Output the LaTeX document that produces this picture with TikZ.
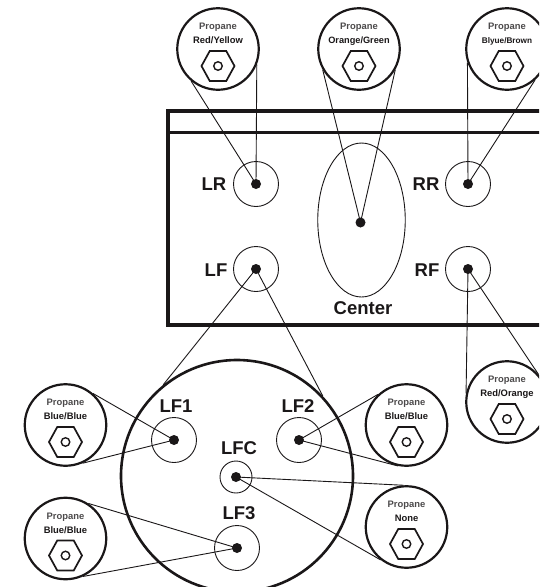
\documentclass[tikz,border=0pt]{standalone}
\usepackage{fontspec}
\setmainfont{Liberation Sans}
\usetikzlibrary{shapes.geometric}
\definecolor{ink}{HTML}{1A1718}
\tikzset{
  x=1pt,y=-1pt,
  thin line/.style={draw=ink,line width=0.9pt},
  detail/.style={circle,draw=ink,fill=white,line width=2.2pt,minimum size=81.5pt,inner sep=0pt},
  port/.style={circle,draw=ink,line width=0.9pt,inner sep=0pt},
  pin/.style={circle,fill=ink,minimum size=10pt,inner sep=0pt},
  lab/.style={font=\bfseries\fontsize{18.5}{20}\selectfont,text=ink,inner sep=0pt},
  prop/.style={font=\bfseries\fontsize{9.4}{11}\selectfont,text=ink!78,inner sep=0pt,anchor=base},
  hexa/.style={regular polygon,regular polygon sides=6,draw=ink,line width=1.7pt,minimum size=33pt,inner sep=0pt,yscale=1.05},
  hole/.style={circle,draw=ink,line width=1.4pt,minimum size=8.5pt,inner sep=0pt}
}
\newcommand{\fitting}[5]{% name, x, y, colour name, size
  \node[detail] (#1) at (#2,#3) {};
  \node[prop] (#1a) at (#2,#3-19.5) {Propane};
  \node[prop,text=ink,font=\bfseries\fontsize{#5}{11}\selectfont] (#1b) at (#2,#3-5.5) {#4};
  \node[hexa] (#1h) at (#2,#3+17) {};
  \node[hole] (#1o) at (#2,#3+17) {};
}
\begin{document}
\begin{tikzpicture}
\useasboundingbox (0,0) rectangle (539,587);
\clip (0,0) rectangle (539,587);
% big circle
\node[circle,draw=ink,line width=2.6pt,minimum size=232pt,inner sep=0pt] (big) at (237,476) {};
% box
\draw[ink,line width=3.8pt] (560,111) -- (168,111) -- (168,325) -- (560,325);
\draw[ink,line width=3.8pt] (168,132.5) -- (560,132.5);
% ports
\node[port,minimum size=45pt] (LR) at (256,184) {};
\node[port,minimum size=45pt] (RR) at (468,184) {};
\node[port,minimum size=45pt] (LF) at (256,269) {};
\node[port,minimum size=45pt] (RF) at (468,269) {};
\node[port,ellipse,minimum width=87.5pt,minimum height=154pt] (C) at (361.5,220) {};
\node[port,minimum size=45pt] (LFa) at (174,440) {};
\node[port,minimum size=45pt] (LFb) at (299,440) {};
\node[port,minimum size=32pt] (LFc) at (236,477) {};
\node[port,minimum size=45pt] (LFd) at (237,548) {};
% pins
\node[pin] (pLR) at (LR) {};
\node[pin] (pRR) at (RR) {};
\node[pin] (pLF) at (LF) {};
\node[pin] (pRF) at (RF) {};
\node[pin] (pC) at (360.5,222.5) {};
\node[pin] (pa) at (LFa) {};
\node[pin] (pb) at (LFb) {};
\node[pin] (pc) at (LFc) {};
\node[pin] (pd) at (LFd) {};
% detail circles
\fitting{dRY}{218}{49}{Red/Yellow}{9.4}
\fitting{dOG}{359}{49}{Orange/Green}{9.2}
\fitting{dBB}{507}{49}{Blyue/Brown}{8.2}
\fitting{dRO}{507}{402}{Red/Orange}{9.4}
\fitting{dA}{65.5}{425}{Blue/Blue}{9.4}
\fitting{dD}{65.5}{538.5}{Blue/Blue}{9.4}
\fitting{dB}{406.5}{425}{Blue/Blue}{9.4}
\fitting{dC}{406.5}{527}{None}{9.4}
% connectors
\draw[thin line] (pLR.center) -- (dRY.230);
\draw[thin line] (pLR.center) -- (dRY.-22);
\draw[thin line] (pC.center) -- (dOG.210);
\draw[thin line] (pC.center) -- (dOG.-30);
\draw[thin line] (pRR.center) -- (dBB.199);
\draw[thin line] (pRR.center) -- (dBB.-48);
\draw[thin line] (pRF.center) -- (dRO.168);
\draw[thin line] (pRF.center) -- (dRO.41);
\draw[thin line] (pLF.center) -- (big.129);
\draw[thin line] (pLF.center) -- (big.43);
\draw[thin line] (pa.center) -- (dA.49);
\draw[thin line] (pa.center) -- (dA.-66);
\draw[thin line] (pd.center) -- (dD.57);
\draw[thin line] (pd.center) -- (dD.-65);
\draw[thin line] (pb.center) -- (dB.133);
\draw[thin line] (pb.center) -- (dB.-102);
\draw[thin line] (pc.center) -- (dC.94);
\draw[thin line] (pc.center) -- (dC.-128);
% labels
\node[lab] (tLR) at (214,184) {LR};
\node[lab] (tRR) at (426,184) {RR};
\node[lab] (tLF) at (216,270) {LF};
\node[lab] (tRF) at (427,270) {RF};
\node[lab] (tC) at (363,308) {Center};
\node[lab] (tLFa) at (176,406) {LF1};
\node[lab] (tLFb) at (298,406) {LF2};
\node[lab] (tLFc) at (239,448) {LFC};
\node[lab] (tLFd) at (239,513) {LF3};
\end{tikzpicture}
\end{document}
